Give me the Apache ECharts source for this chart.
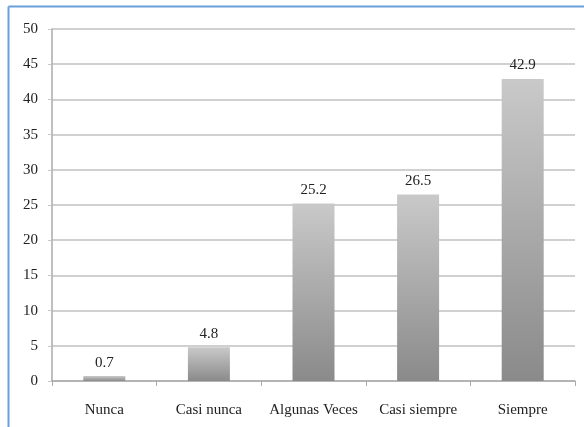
<!DOCTYPE html>
<html><head><meta charset="utf-8">
<script src="https://cdn.jsdelivr.net/npm/echarts@6/dist/echarts.min.js"></script>
<style>html,body{margin:0;padding:0;background:#fff}#c{width:584px;height:427px}</style>
</head><body><div id="c"></div>
<script>
const categories = ["Nunca", "Casi nunca", "Algunas Veces", "Casi siempre", "Siempre"];
const values = [0.7, 4.8, 25.2, 26.5, 42.9];
const yMin = 0, yMax = 50, yStep = 5;

const chart = echarts.init(document.getElementById('c'), null, {renderer: 'canvas'});
const font = '"Liberation Serif", "Times New Roman", serif';
chart.setOption({
  animation: false,
  graphic: [
    {type: 'line', shape: {x1: 8.5, y1: 6.5, x2: 584, y2: 6.5}, style: {stroke: '#6a9fd8', lineWidth: 2}},
    {type: 'line', shape: {x1: 8.5, y1: 6.5, x2: 8.5, y2: 427}, style: {stroke: '#6a9fd8', lineWidth: 2}}
  ],
  grid: {left: 52, right: 9, top: 29, bottom: 46, containLabel: false},
  xAxis: {
    type: 'category', data: categories,
    axisLine: {lineStyle: {color: '#aaaaaa', width: 1.5}},
    axisTick: {show: true, length: 5, lineStyle: {color: '#aaaaaa'}},
    axisLabel: {interval: 0, color: '#222', fontFamily: font, fontSize: 15, margin: 22}
  },
  yAxis: {
    type: 'value', min: yMin, max: yMax, interval: yStep,
    axisLine: {show: true, lineStyle: {color: '#aaaaaa', width: 1.5}},
    axisTick: {show: true, length: 4, lineStyle: {color: '#c8c8c8'}},
    splitLine: {lineStyle: {color: '#d0d0d0', width: 2}},
    axisLabel: {color: '#222', fontFamily: font, fontSize: 15, margin: 14}
  },
  series: [{
    type: 'bar', data: values, barWidth: 42,
    itemStyle: {color: new echarts.graphic.LinearGradient(0, 0, 0, 1, [
      {offset: 0, color: '#c9c9c9'}, {offset: 1, color: '#8a8a8a'}
    ])},
    label: {show: true, position: 'top', distance: 6, color: '#222', fontFamily: font, fontSize: 15}
  }]
});
</script></body></html>
